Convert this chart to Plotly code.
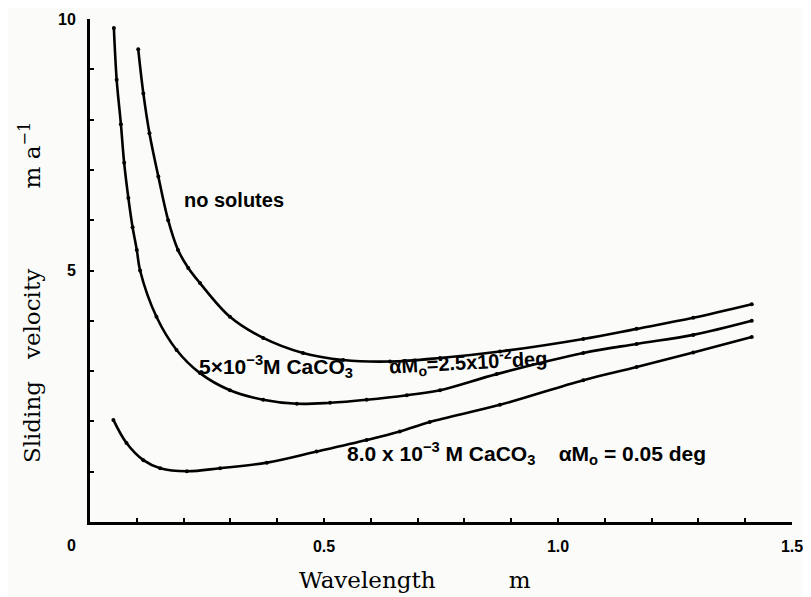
import plotly.graph_objects as go

# Data (Wavelength m, Sliding velocity m/a)
x_none = [0.103, 0.114, 0.127, 0.146, 0.167, 0.188, 0.210, 0.235, 0.299, 0.370, 0.455,
          0.541, 0.641, 0.748, 0.876, 1.054, 1.168, 1.289, 1.414]
y_none = [9.40, 8.52, 7.73, 6.87, 6.00, 5.41, 5.05, 4.75, 4.08, 3.66, 3.36,
          3.22, 3.19, 3.26, 3.39, 3.64, 3.84, 4.06, 4.33]

x_5e3 = [0.051, 0.057, 0.066, 0.073, 0.082, 0.091, 0.100, 0.107, 0.142, 0.185, 0.235,
         0.299, 0.370, 0.442, 0.513, 0.591, 0.677, 0.748, 0.869, 1.054, 1.168, 1.289, 1.414]
y_5e3 = [9.82, 8.79, 7.91, 7.14, 6.44, 5.86, 5.41, 5.00, 4.08, 3.42, 2.96,
         2.62, 2.43, 2.35, 2.37, 2.43, 2.52, 2.62, 2.94, 3.36, 3.54, 3.72, 4.00]

x_8e3 = [0.050, 0.078, 0.114, 0.150, 0.207, 0.278, 0.378, 0.484, 0.591, 0.662,
         0.726, 0.876, 1.054, 1.168, 1.289, 1.414]
y_8e3 = [2.03, 1.57, 1.23, 1.07, 1.01, 1.07, 1.18, 1.40, 1.63, 1.80,
         1.99, 2.33, 2.82, 3.08, 3.37, 3.68]

x_tickvals = [0, 0.1, 0.2, 0.3, 0.4, 0.5, 0.6, 0.7, 0.8, 0.9, 1.0, 1.1, 1.2, 1.3, 1.4, 1.5]
x_ticktext = ["", "", "", "", "", "0.5", "", "", "", "", "1.0", "", "", "", "", "1.5"]
y_tickvals = [0, 1, 2, 3, 4, 5, 6, 7, 8, 9, 10]
y_ticktext = ["", "", "", "", "", "5", "", "", "", "", "10"]

fig = go.Figure()
for xs, ys in [(x_none, y_none), (x_5e3, y_5e3), (x_8e3, y_8e3)]:
    fig.add_trace(go.Scatter(
        x=xs, y=ys, mode="lines+markers",
        line=dict(color="black", width=2.6, shape="spline", smoothing=1.0),
        marker=dict(color="black", size=4),
        showlegend=False, hoverinfo="skip"))

sans = "Liberation Sans, Arial, sans-serif"
serif = "DejaVu Serif, Liberation Serif, serif"
tickfont = dict(family=sans, size=16, color="black", weight="bold")

# the page body adds an 8px offset, so the figure is 8px smaller
fig.update_layout(
    width=803, height=589,
    margin=dict(l=82, r=19, t=11, b=75),
    paper_bgcolor="#fbfcfa", plot_bgcolor="#fbfcfa",
    font=dict(family=sans, color="black"),
    xaxis=dict(range=[0, 1.5], showgrid=False, zeroline=False, automargin=False,
               showline=True, linecolor="black", linewidth=3,
               tickmode="array", tickvals=x_tickvals, ticktext=x_ticktext,
               ticks="inside", ticklen=4, tickwidth=2, tickcolor="black",
               tickfont=tickfont, ticklabelstandoff=8),
    yaxis=dict(range=[0, 10], showgrid=False, zeroline=False, automargin=False,
               showline=True, linecolor="black", linewidth=3,
               tickmode="array", tickvals=y_tickvals, ticktext=y_ticktext,
               ticks="inside", ticklen=4, tickwidth=2, tickcolor="black",
               tickfont=tickfont, ticklabelstandoff=8),
)

serif_font = dict(family=serif, size=23, color="black")
nb = "&nbsp;"
fig.add_annotation(x=0.463, y=-0.115, xref="paper", yref="paper",
                   text="Wavelength" + nb * 10 + "m", showarrow=False,
                   xanchor="center", yanchor="middle", font=serif_font)
fig.add_annotation(x=-0.0855, y=0.457, xref="paper", yref="paper",
                   text="Sliding" + nb * 3 + "velocity" + nb * 11 + "m a<sup>−1</sup>", showarrow=False,
                   xanchor="center", yanchor="middle", textangle=-90, font=serif_font)

ann_font = dict(family=sans, size=20, color="black", weight="bold")
ann_font21 = dict(family=sans, size=21, color="black", weight="bold")
fig.add_annotation(x=-0.0267, y=-0.046, xref="paper", yref="paper", text="0", showarrow=False,
                   xanchor="center", yanchor="middle", font=tickfont)
fig.add_annotation(x=0.197, y=6.40, text="no solutes", showarrow=False,
                   xanchor="left", yanchor="middle", font=ann_font)
fig.add_annotation(x=0.229, y=3.10, text="5×10<sup>−3</sup>M CaCO<sub>3</sub>", showarrow=False,
                   xanchor="left", yanchor="middle", font=ann_font21)
fig.add_annotation(x=0.808, y=3.18,
                   text="αM<sub>o</sub>=2.5x10<sup>-2</sup>deg",
                   showarrow=False, xanchor="center", yanchor="middle", textangle=-3, font=ann_font)
fig.add_annotation(x=0.545, y=1.37,
                   text="8.0 x 10<sup>−3</sup> M CaCO<sub>3</sub>" + nb * 4 + "αM<sub>o</sub> = 0.05 deg",
                   showarrow=False, xanchor="left", yanchor="middle", font=ann_font21)

fig.write_html("out.html")
